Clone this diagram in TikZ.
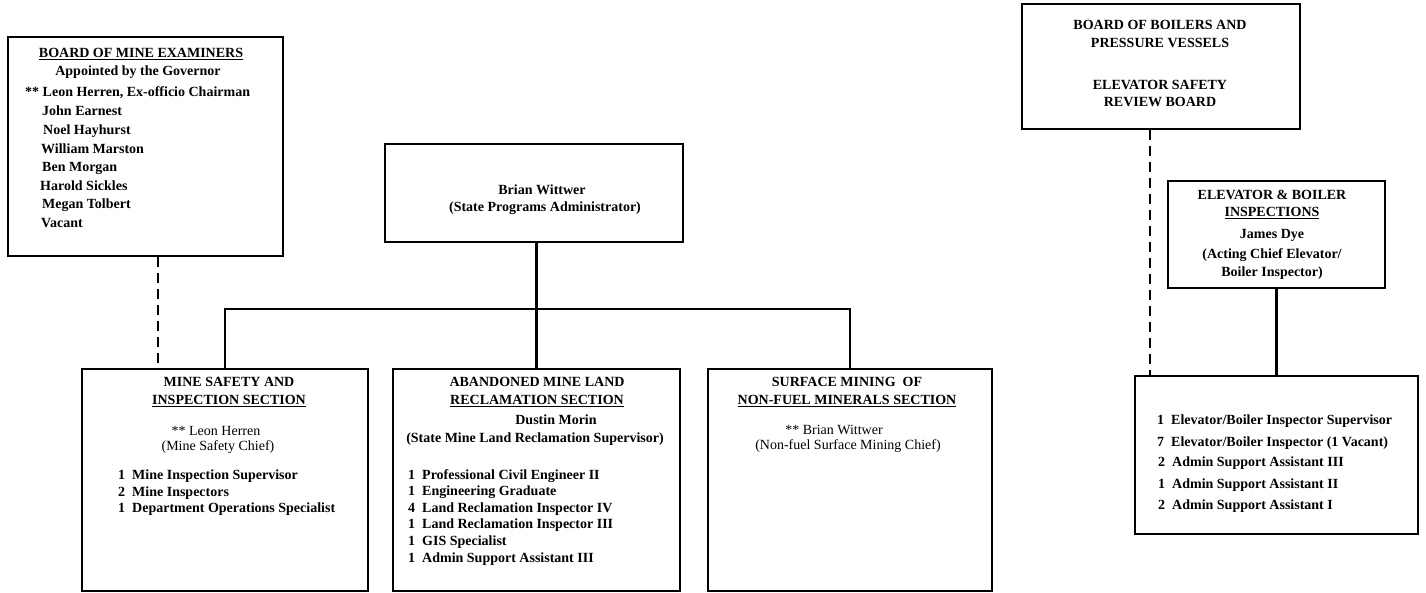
\documentclass[tikz,border=0pt]{standalone}
\usepackage{fontspec}
\setmainfont{Liberation Serif}
\usepackage{tikz}
\usetikzlibrary{calc}

\tikzset{
  box/.style={draw, line width=2pt, anchor=north west, inner sep=0pt},
  txt/.style={inner sep=0pt, anchor=mid, font=\fontsize{14}{16}\selectfont\bfseries},
  lst/.style={txt, anchor=mid west},
  reg/.style={font=\fontsize{14}{16}\selectfont},
  link/.style={line width=2.2pt},
  dashlink/.style={line width=2.2pt, dash pattern=on 10pt off 6pt},
}

\begin{document}
\begin{tikzpicture}[x=1pt, y=-1pt]
\useasboundingbox (0,0) rectangle (1426,592);
% boxes
\node[box, minimum width=275, minimum height=219] (board) at (7,36) {};
\node[box, minimum width=298, minimum height=98] (admin) at (384,143) {};
\node[box, minimum width=286, minimum height=222] (safety) at (81,368) {};
\node[box, minimum width=287, minimum height=222] (aml) at (392,368) {};
\node[box, minimum width=284, minimum height=222] (surface) at (707,368) {};
\node[box, minimum width=278, minimum height=125] (boilers) at (1021,3) {};
\node[box, minimum width=217, minimum height=107] (elev) at (1167,180) {};
\node[box, minimum width=283, minimum height=158] (staff) at (1134,375) {};

% board of mine examiners
\node[txt] (boardT) at (141,55) {\underline{BOARD OF MINE EXAMINERS}};
\node[txt] (boardA) at (138,73) {Appointed by the Governor};
\node[lst] (boardL1) at (25,94) {** Leon Herren, Ex-officio Chairman};
\node[lst] (boardL2) at (42,113) {John Earnest};
\node[lst] (boardL3) at (43,132) {Noel Hayhurst};
\node[lst] (boardL4) at (41,151) {William Marston};
\node[lst] (boardL5) at (42,169) {Ben Morgan};
\node[lst] (boardL6) at (40,188) {Harold Sickles};
\node[lst] (boardL7) at (42,206) {Megan Tolbert};
\node[lst] (boardL8) at (41,225) {Vacant};

% administrator
\node[txt] (adminN) at (542,192) {Brian Wittwer};
\node[txt] (adminR) at (545,209) {(State Programs Administrator)};

% mine safety
\node[txt] (safetyT1) at (229,384) {MINE SAFETY AND};
\node[txt] (safetyT2) at (229,402) {\underline{INSPECTION SECTION}};
\node[txt, reg] (safetyN) at (216,433) {** Leon Herren};
\node[txt, reg] (safetyR) at (218,448) {(Mine Safety Chief)};
\node[lst] (safetyL1) at (118,477) {1~~Mine Inspection Supervisor};
\node[lst] (safetyL2) at (118,494) {2~~Mine Inspectors};
\node[lst] (safetyL3) at (118,510) {1~~Department Operations Specialist};

% abandoned mine land
\node[txt] (amlT1) at (537,384) {ABANDONED MINE LAND};
\node[txt] (amlT2) at (537,402) {\underline{RECLAMATION SECTION}};
\node[txt] (amlN) at (556,422) {Dustin Morin};
\node[txt] (amlR) at (535,440) {(State Mine Land Reclamation Supervisor)};
\node[lst] (amlL1) at (408,477) {1~~Professional Civil Engineer II};
\node[lst] (amlL2) at (408,493) {1~~Engineering Graduate};
\node[lst] (amlL3) at (408,510) {4~~Land Reclamation Inspector IV};
\node[lst] (amlL4) at (408,526) {1~~Land Reclamation Inspector III};
\node[lst] (amlL5) at (408,543) {1~~GIS Specialist};
\node[lst] (amlL6) at (408,560) {1~~Admin Support Assistant III};

% surface mining
\node[txt] (surfT1) at (847,384) {SURFACE MINING~~OF};
\node[txt] (surfT2) at (847,402) {\underline{NON-FUEL MINERALS SECTION}};
\node[txt, reg] (surfN) at (834,432) {** Brian Wittwer};
\node[txt, reg] (surfR) at (848,447) {(Non-fuel Surface Mining Chief)};

% boilers and elevators
\node[txt] (boilT1) at (1160,27) {BOARD OF BOILERS AND};
\node[txt] (boilT2) at (1160,45) {PRESSURE VESSELS};
\node[txt] (boilT3) at (1160,87) {ELEVATOR SAFETY};
\node[txt] (boilT4) at (1160,104) {REVIEW BOARD};
\node[txt] (elevT1) at (1272,197) {ELEVATOR \& BOILER};
\node[txt] (elevT2) at (1272,214) {\underline{INSPECTIONS}};
\node[txt] (elevN) at (1272,236) {James Dye};
\node[txt] (elevR1) at (1272,256) {(Acting Chief Elevator/};
\node[txt] (elevR2) at (1272,274) {Boiler Inspector)};
\node[lst] (staffL1) at (1157,422) {1~~Elevator/Boiler Inspector Supervisor};
\node[lst] (staffL2) at (1157,444) {7~~Elevator/Boiler Inspector (1 Vacant)};
\node[lst] (staffL3) at (1158,464) {2~~Admin Support Assistant III};
\node[lst] (staffL4) at (1158,486) {1~~Admin Support Assistant II};
\node[lst] (staffL5) at (1158,507) {2~~Admin Support Assistant I};

% connectors
\coordinate (bus) at (537,309);
\draw[link] (admin.south -| aml.north) -- (aml.north);
\draw[link] (safety.north) -- (safety.north |- bus) -- (surface.north |- bus) -- (surface.north);
\draw[dashlink] ([xshift=12.5pt]board.south) -- ([xshift=12.5pt]board.south |- safety.north);
\draw[dashlink] ([xshift=-11pt]boilers.south) -- ([xshift=-11pt]boilers.south |- staff.north);
\draw[link] (elev.south) -- (staff.north);
\end{tikzpicture}
\end{document}
